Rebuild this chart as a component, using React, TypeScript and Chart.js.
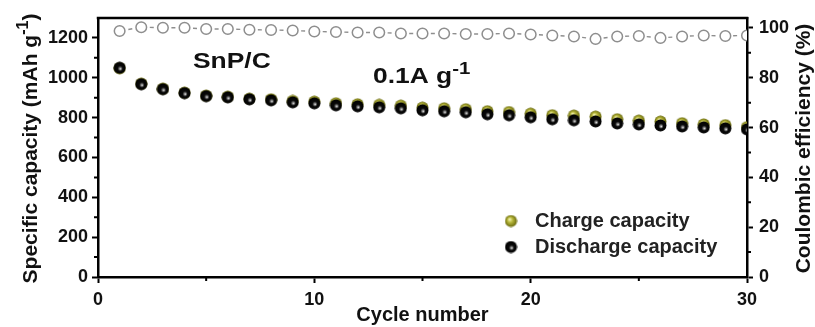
import React, { useEffect, useRef } from "react";
import { Chart, registerables } from "chart.js";

Chart.register(...registerables);

// ---------------- data ----------------
const cycles = [1, 2, 3, 4, 5, 6, 7, 8, 9, 10, 11, 12, 13, 14, 15, 16, 17, 18, 19, 20, 21, 22, 23, 24, 25, 26, 27, 28, 29, 30];

const chargeCapacity = [1048, 970, 945, 925, 910, 905, 895, 892, 884, 880, 872, 867, 864, 860, 850, 847, 842, 832, 828, 820, 812, 810, 805, 792, 785, 780, 772, 766, 762, 752];

const dischargeCapacity = [1050, 968, 943, 923, 908, 902, 892, 887, 877, 872, 862, 857, 852, 847, 837, 832, 827, 817, 812, 802, 792, 787, 781, 771, 766, 761, 756, 751, 746, 741];

const coulombicEfficiency = [98.8, 100.3, 100.1, 100.1, 99.6, 99.6, 99.3, 99.2, 99.0, 98.6, 98.4, 98.2, 98.2, 97.8, 97.8, 97.8, 97.6, 97.6, 97.8, 97.4, 97.0, 96.6, 95.6, 96.6, 96.8, 96.0, 96.6, 97.0, 96.8, 97.0];

const xTickValues = [0, 10, 20, 30];
const xMinorTickValues = [5, 15, 25];
const capacityTickValues = [0, 200, 400, 600, 800, 1000, 1200];
const capacityMinorTickValues = [100, 300, 500, 700, 900, 1100];
const ceTickValues = [0, 20, 40, 60, 80, 100];
const ceMinorTickValues = [10, 30, 50, 70, 90];

const seriesLabels = ["Charge capacity", "Discharge capacity", "Coulombic efficiency"];
const xTitle = "Cycle number";
const leftTitleParts = ["Specific capacity (mAh g", "-1", ")"];
const rightTitle = "Coulombic efficiency (%)";
const sampleLabel = "SnP/C";
const rateLabelParts = ["0.1A g", "-1"];

// ---------------- styling helpers ----------------
const FONT = "'Liberation Sans', Arial, Helvetica, sans-serif";
const INK = "#111111";

function makeBall(kind: "charge" | "discharge"): HTMLCanvasElement {
  const r = 6;
  const size = 2 * r + 1;
  const c = document.createElement("canvas");
  c.width = size;
  c.height = size;
  const g = c.getContext("2d")!;
  const cx = size / 2;
  const cy = size / 2;
  let grad: CanvasGradient;
  if (kind === "charge") {
    grad = g.createRadialGradient(cx - 1.5, cy - 1.8, 0.3, cx, cy, r);
    grad.addColorStop(0, "#f6f6b8");
    grad.addColorStop(0.4, "#b9b93c");
    grad.addColorStop(1, "#6a6a0c");
  } else {
    grad = g.createRadialGradient(cx + 0.8, cy + 1.2, 0.2, cx, cy, r);
    grad.addColorStop(0, "#e8e8e8");
    grad.addColorStop(0.16, "#808080");
    grad.addColorStop(0.4, "#0a0a0a");
    grad.addColorStop(1, "#000000");
  }
  g.fillStyle = grad;
  g.beginPath();
  g.arc(cx, cy, r, 0, Math.PI * 2);
  g.fill();
  return c;
}

type Part = { text: string; size: number; rise: number };

function drawParts(
  ctx: CanvasRenderingContext2D,
  parts: Part[],
  x: number,
  y: number,
  align: "left" | "center",
  stretch = 1
) {
  let total = 0;
  const widths = parts.map((p) => {
    ctx.font = `bold ${p.size}px ${FONT}`;
    const w = ctx.measureText(p.text).width;
    total += w;
    return w;
  });
  ctx.save();
  ctx.translate(x, y);
  ctx.scale(stretch, 1);
  let cur = align === "center" ? -total / 2 : 0;
  ctx.textAlign = "left";
  ctx.textBaseline = "alphabetic";
  parts.forEach((p, i) => {
    ctx.font = `bold ${p.size}px ${FONT}`;
    ctx.fillText(p.text, cur, -p.rise);
    cur += widths[i];
  });
  ctx.restore();
}

const decorPlugin = {
  id: "decor",
  afterDraw(chart: any) {
    const ctx: CanvasRenderingContext2D = chart.ctx;
    const { left, right, top, bottom } = chart.chartArea;
    const xs = chart.scales.x;
    const ys = chart.scales.y;
    const y1 = chart.scales.y1;
    ctx.save();
    ctx.strokeStyle = "#000";
    // top frame line
    ctx.lineWidth = 2.5;
    ctx.beginPath();
    ctx.moveTo(left - 1.25, top);
    ctx.lineTo(right + 1.25, top);
    ctx.stroke();
    // minor ticks
    ctx.lineWidth = 2;
    ctx.beginPath();
    xMinorTickValues.forEach((v) => {
      const px = xs.getPixelForValue(v);
      ctx.moveTo(px, bottom);
      ctx.lineTo(px, bottom + 4);
    });
    capacityMinorTickValues.forEach((v) => {
      const py = ys.getPixelForValue(v);
      ctx.moveTo(left, py);
      ctx.lineTo(left - 4, py);
    });
    ceMinorTickValues.forEach((v) => {
      const py = y1.getPixelForValue(v);
      ctx.moveTo(right, py);
      ctx.lineTo(right + 4, py);
    });
    ctx.stroke();

    ctx.fillStyle = INK;
    const cy = (top + bottom) / 2;
    // left axis title (rotated)
    ctx.save();
    ctx.translate(37, cy + 1);
    ctx.rotate(-Math.PI / 2);
    drawParts(
      ctx,
      [
        { text: leftTitleParts[0], size: 21, rise: 0 },
        { text: leftTitleParts[1], size: 16, rise: 9 },
        { text: leftTitleParts[2], size: 21, rise: 0 },
      ],
      0,
      0,
      "center"
    );
    ctx.restore();
    // right axis title (rotated, reads bottom to top)
    ctx.save();
    ctx.translate(810, cy + 1);
    ctx.rotate(-Math.PI / 2);
    drawParts(ctx, [{ text: rightTitle, size: 21, rise: 0 }], 0, 0, "center");
    ctx.restore();

    // annotations
    drawParts(ctx, [{ text: sampleLabel, size: 22, rise: 0 }], left + 95, top + 50, "left", 1.2);
    drawParts(
      ctx,
      [
        { text: rateLabelParts[0], size: 22, rise: 0 },
        { text: rateLabelParts[1], size: 17, rise: 9 },
      ],
      left + 275,
      top + 65,
      "left",
      1.2
    );

    // legend
    const legendSets = chart.data.datasets.filter((d: any) => d.inLegend);
    legendSets.forEach((d: any, i: number) => {
      const mx = left + 413;
      const my = top + 203 + i * 26;
      const img = d.pointStyle as HTMLCanvasElement;
      ctx.drawImage(img, mx - img.width / 2, my - img.height / 2);
      ctx.font = `bold 20px ${FONT}`;
      ctx.fillStyle = "#222";
      ctx.textAlign = "left";
      ctx.textBaseline = "middle";
      ctx.fillText(d.label, left + 437, my);
    });
    ctx.restore();
  },
};

export default function App() {
  const ref = useRef<HTMLCanvasElement | null>(null);

  useEffect(() => {
    const canvas = ref.current;
    if (!canvas) return;
    const chargeBall = makeBall("charge");
    const dischargeBall = makeBall("discharge");

    const tickFont = { family: FONT, size: 18, weight: "bold" as const };
    const plainLabel = (v: any) => String(v);
    const gridOpts = {
      display: true,
      drawOnChartArea: false,
      drawTicks: true,
      tickLength: 6,
      tickWidth: 2,
      tickColor: "#000",
    };
    const borderOpts = { display: true, color: "#000", width: 2.5 };

    const chart = new Chart(canvas, {
      type: "line",
      data: {
        datasets: [
          {
            label: seriesLabels[0],
            data: cycles.map((c, i) => ({ x: c, y: chargeCapacity[i] })),
            yAxisID: "y",
            showLine: false,
            pointStyle: chargeBall,
            pointRadius: 6,
            order: 1,
            inLegend: true,
          } as any,
          {
            label: seriesLabels[1],
            data: cycles.map((c, i) => ({ x: c, y: dischargeCapacity[i] })),
            yAxisID: "y",
            showLine: false,
            pointStyle: dischargeBall,
            pointRadius: 6,
            order: 0,
            inLegend: true,
          } as any,
          {
            label: seriesLabels[2],
            data: cycles.map((c, i) => ({ x: c, y: coulombicEfficiency[i] })),
            yAxisID: "y1",
            borderColor: "#8e8e8e",
            borderWidth: 1.4,
            borderDash: [4, 17.63],
            borderDashOffset: 12.8,
            tension: 0,
            pointStyle: "circle",
            pointRadius: 5.3,
            pointBackgroundColor: "#ffffff",
            pointBorderColor: "#8e8e8e",
            pointBorderWidth: 1.5,
            order: 2,
          },
        ],
      },
      options: {
        animation: false,
        responsive: false,
        layout: { padding: { top: 18, left: 0, right: 0, bottom: 0 } },
        plugins: {
          legend: { display: false },
          tooltip: { enabled: false },
        },
        scales: {
          x: {
            type: "linear",
            min: 0,
            max: 30,
            afterFit: (s: any) => {
              s.height = 50;
            },
            afterBuildTicks: (s: any) => {
              s.ticks = xTickValues.map((v) => ({ value: v }));
            },
            ticks: { font: tickFont, color: INK, padding: 6, maxRotation: 0, callback: plainLabel },
            grid: gridOpts,
            border: borderOpts,
            title: {
              display: true,
              text: xTitle,
              font: { family: FONT, size: 20, weight: "bold" },
              color: INK,
              padding: { top: 0, bottom: 0 },
            },
          },
          y: {
            type: "linear",
            position: "left",
            min: 0,
            max: 1300,
            afterFit: (s: any) => {
              s.width = 98;
            },
            afterBuildTicks: (s: any) => {
              s.ticks = capacityTickValues.map((v) => ({ value: v }));
            },
            ticks: { font: tickFont, color: INK, padding: 4, callback: plainLabel },
            grid: gridOpts,
            border: borderOpts,
          },
          y1: {
            type: "linear",
            position: "right",
            min: 0,
            max: 104,
            afterFit: (s: any) => {
              s.width = 68;
            },
            afterBuildTicks: (s: any) => {
              s.ticks = ceTickValues.map((v) => ({ value: v }));
            },
            ticks: { font: tickFont, color: INK, padding: 6, callback: plainLabel },
            grid: gridOpts,
            border: borderOpts,
          },
        },
      } as any,
      plugins: [decorPlugin as any],
    });

    return () => {
      chart.destroy();
    };
  }, []);

  return (
    <div style={{ position: "absolute", left: 0, top: 0, width: 815, height: 327, background: "#fff" }}>
      <canvas ref={ref} width={815} height={327} style={{ width: 815, height: 327, display: "block" }} />
    </div>
  );
}
